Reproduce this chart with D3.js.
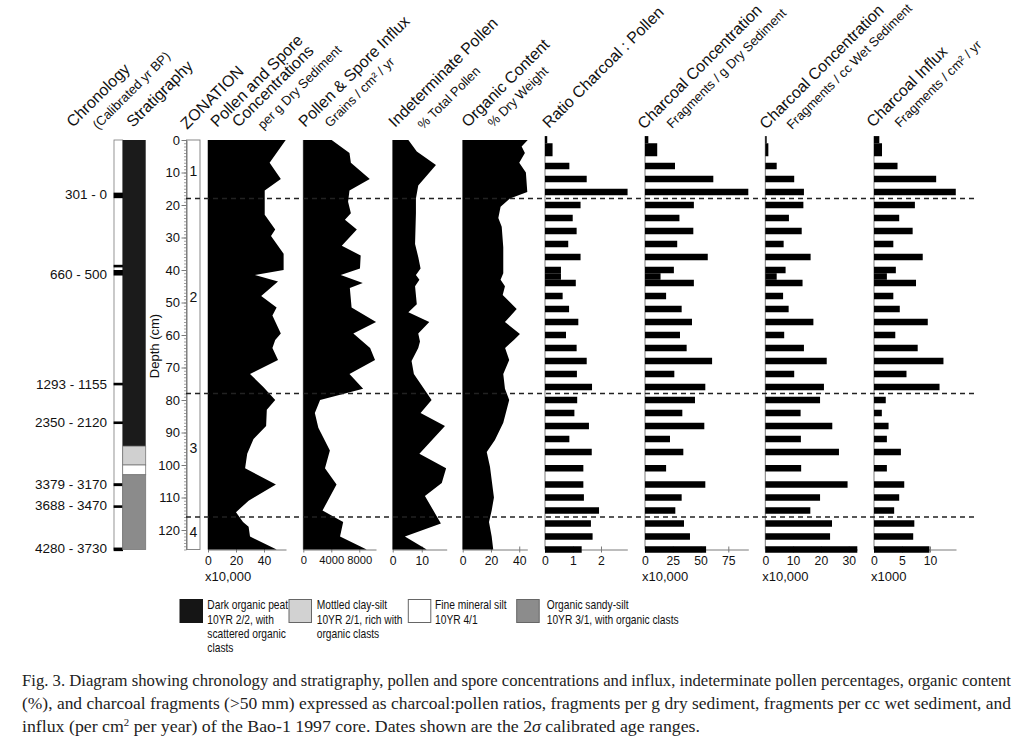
<!DOCTYPE html>
<html><head><meta charset="utf-8">
<script src="https://cdn.jsdelivr.net/npm/d3@7"></script>
<style>body{margin:0;background:#fff;} svg{display:block;font-family:"Liberation Sans",Arial,Helvetica,sans-serif;}</style>
</head><body><svg id="c" width="1024" height="737"></svg>
<script>
// ---------------- DATA ----------------
const headerTitles = [["Chronology"],["Stratigraphy"],["ZONATION"],["Pollen and Spore","Concentrations"],["Pollen & Spore Influx"],["Indeterminate Pollen"],["Organic Content"],["Ratio Charcoal : Pollen"],["Charcoal Concentration"],["Charcoal Concentration"],["Charcoal Influx"]];
const headerSubs = ["(Calibrated yr BP)","","","per g Dry Sediment","Grains / cm\u00B2 / yr","% Total Pollen","% Dry Weight","","Fragments / g Dry Sediment","Fragments / cc Wet Sediment","Fragments / cm\u00B2 / yr"];

const dateLabels = ["301 - 0","660 - 500","1293 - 1155","2350 - 2120","3379 - 3170","3688 - 3470","4280 - 3730"];
const dateLabelDepth = [16.9, 41.3, 75.1, 86.8, 106, 112.6, 125.6];
const dateMarkTop = [16.2, 38.4, 40.0, 74.7, 86.6, 105.6, 112.4, 125.4];
const dateMarkBottom = [17.9, 39.2, 41.7, 75.5, 87.4, 106.5, 113.2, 126.5];

const stratTop = [0, 94.2, 100, 103];
const stratBottom = [94.2, 100, 103, 126];
const stratType = [0, 1, 2, 3];

const depthTicks = [0,10,20,30,40,50,60,70,80,90,100,110,120];
const zoneBounds = [18, 78, 116];
const zoneNames = ["1","2","3","4"];
const zoneLabelDepth = [9.4, 48.2, 94.9, 120.5];

const pollenConcDepth = [0,7,12,15.5,23,27.5,29.5,35,40,41.5,43.5,48,51.5,54,59.5,61.5,64,67.7,72,76,80,83,88,92,96.5,101,106,111,114.5,117.5,119,122,126];
const pollenConc = [55.5,44,52,40.5,40.5,48,45,54,54,33.5,50,38,49,46,52,48,46,50,30,39.5,48,42,41.5,32.5,28,26.5,48.5,29,20,25,29,30,49];

const pollenInfluxDepth = [0,4,7,12,15.5,19,22.5,24.5,27.5,32.5,35.5,39.5,41.5,44,45.5,51.5,56,59.5,64,67.7,72,76.5,80,84,88.5,95.5,101,106,114,117.5,122,126];
const pollenInflux = [4050,6600,6800,9500,6600,6400,6800,5950,7650,5500,8200,8100,5350,8500,6650,6900,10400,7150,9550,10250,6600,8550,2400,1650,2150,3800,3100,4750,2750,5700,5250,9050];

const indetDepth = [0,3.5,7.7,14,18,22.5,32,36,39.5,41.5,43,45,50.5,53,56,59.5,62,64,68,72,80,84,88,96.5,101,105.5,109.5,118,122,126];
const indet = [5.4,8.3,14.9,8.8,8,8,7.7,8.8,9.6,8,9.2,7.7,8.3,5.4,12.6,8.8,9.4,8.8,6.5,7.3,13.4,9.6,18,9.2,18.4,16.9,11.1,16.6,4.2,11.7];

const organicDepth = [0,2,4,7,10,16,18,20.5,24,26.7,33,41,43,45,47.7,52,56,59.7,61.5,64,67.7,72,76.5,80,87,92.3,96,100.5,110,114,117.5,122,126];
const organic = [46,41.7,44,40,44.7,45.7,33.4,26.8,25.2,27.6,28.7,28.7,26.8,29.9,28.3,38.2,29.9,40.5,36.2,30,32.9,28.7,29.9,32.9,28.7,22.8,17,19.3,22.1,20.5,18.6,20.5,21.6];

const barTop = [-1.2,1,7,11,15,19,23,27,31,35,39,41,43,47,51,55,59,63,67,71,75,79,83,87,91,95,100,105,109,113,117,121,125];
const barBottom = [1,5,9,13,17,21,25,29,33,37,41,43,45,49,53,57,61,65,69,73,77,81,85,89,93,97,102,107,111,115,119,123,127];
const ratioCP = [0.08,0.27,0.87,1.49,2.95,1.27,0.99,1.13,0.83,1.27,0.57,0.57,1.1,0.63,0.86,1.19,0.75,1.13,1.49,1.14,1.68,1.15,1.05,1.57,0.87,1.67,1.37,1.37,1.39,1.93,1.64,1.70,1.31];
const charDry = [3,11,27,61.5,93,44,31,43.5,29,56.5,26,14,44,19,33,42.3,31.5,37.5,60.4,26.4,54.3,45,33.6,53.4,22.5,34.5,19,54.3,33,27.3,35.1,40.5,55];
const charWet = [0.5,1.1,4.1,10.4,13.9,13.7,8.5,13.1,6.6,16.3,7.3,4.1,13.4,6.4,8.4,17.3,6.8,13.9,22.1,10.4,21.1,19.7,12.7,24.1,12.8,26.5,12.9,29.6,19.7,16.2,24,23.3,33.1];
const charInflux = [0.95,1.43,4.2,11.1,14.6,7.3,4.5,6.9,3.45,8.7,3.9,2.3,7.5,3.45,4.6,9.6,3.8,7.8,12.4,5.8,11.7,2.1,1.4,2.6,2.3,4.8,2.3,5.4,4.5,3.6,7.2,7,9.9];

const ticksPollenConc = [0,20,40];
const ticksPollenInflux = [0,4000,8000];
const ticksIndet = [0,10];
const ticksOrganic = [0,20,40];
const ticksRatio = [0,1,2];
const ticksCharDry = [0,25,50,75];
const ticksCharWet = [0,10,20,30];
const ticksCharInflux = [0,5,10];
const multLabels = ["x10,000","","","","","x10,000","x10,000","x1000"];

const legendLines = [["Dark organic peat","10YR 2/2, with","scattered organic","clasts"],["Mottled  clay-silt","10YR 2/1, rich with","organic clasts"],["Fine mineral silt","10YR 4/1"],["Organic sandy-silt","10YR 3/1, with organic clasts"]];

const captionLines = [
 "Fig. 3. Diagram showing chronology and stratigraphy, pollen and spore concentrations and influx, indeterminate pollen percentages, organic content",
 "(%), and charcoal fragments (>50 mm) expressed as charcoal:pollen ratios, fragments per g dry sediment, fragments per cc wet sediment, and"
];

// ---------------- DRAW ----------------
const svg = d3.select('#c');
const axisCol = '#7a7a7a';
const y = d3.scaleLinear().domain([0,126]).range([140,549.5]);
const stratColors = ['#1b1b1b','#d0d0d0','#ffffff','#8b8b8b'];

// Headers
const headerPos = [[73,128,98,130],[133,128],[187,130],[217,128,263,130],[305,128,330,128],[395,128,423,130],[468,128,493,128],[549,129],[644,130,672,129],[766,130,792,130],[873,128,900,128]];
headerTitles.forEach((lines,i)=>{
  const p = headerPos[i];
  lines.forEach((t,j)=>{
    svg.append('text').attr('transform',`translate(${p[0]+j*21.5},${p[1]}) rotate(-45)`)
      .attr('font-size',16).attr('fill','#111').text(t);
  });
  if(headerSubs[i]){
    svg.append('text').attr('transform',`translate(${p[2]},${p[3]}) rotate(-45)`)
      .attr('font-size',13).attr('fill','#111').text(headerSubs[i]);
  }
});

// Chronology column
const colTop = y(0), colBot = y(126);
svg.append('rect').attr('x',114).attr('y',colTop).attr('width',8.7).attr('height',colBot-colTop)
  .attr('fill','#fff').attr('stroke',axisCol).attr('stroke-width',0.8);
dateMarkTop.forEach((t,i)=>{
  svg.append('rect').attr('x',113.6).attr('y',y(t)).attr('width',9.4).attr('height',y(dateMarkBottom[i])-y(t)).attr('fill','#000');
});
dateLabels.forEach((l,i)=>{
  svg.append('text').attr('x',107).attr('y',y(dateLabelDepth[i])).attr('text-anchor','end')
    .attr('dominant-baseline','central').attr('font-size',13.5).attr('fill','#111').text(l);
});

// Stratigraphy
stratTop.forEach((t,i)=>{
  svg.append('rect').attr('x',122.7).attr('y',y(t)).attr('width',23).attr('height',y(stratBottom[i])-y(t))
    .attr('fill',stratColors[stratType[i]]).attr('stroke',stratType[i]===0?'none':'#777').attr('stroke-width',0.8);
});

// Zonation box + depth axis
svg.append('rect').attr('x',186.5).attr('y',colTop).attr('width',13.5).attr('height',colBot-colTop)
  .attr('fill','#fff').attr('stroke',axisCol).attr('stroke-width',0.9);
const minorAx = svg.append('g').attr('transform','translate(186.5,0)')
  .call(d3.axisLeft(y).tickValues(d3.range(0,127,1)).tickSize(2.5).tickSizeOuter(0).tickFormat(''));
minorAx.select('.domain').attr('stroke',axisCol);
minorAx.selectAll('line').attr('stroke',axisCol).attr('stroke-width',0.7);
const majorAx = svg.append('g').attr('transform','translate(186.5,0)')
  .call(d3.axisLeft(y).tickValues(depthTicks).tickSize(5).tickSizeOuter(0).tickPadding(1.5));
majorAx.select('.domain').remove();
majorAx.selectAll('line').attr('stroke',axisCol);
majorAx.selectAll('text').attr('font-size',13).attr('fill','#111').attr('font-family','"Liberation Sans",Arial,sans-serif');
svg.append('text').attr('transform','translate(159,346) rotate(-90)').attr('text-anchor','middle')
  .attr('font-size',13).attr('fill','#111').text('Depth (cm)');
zoneNames.forEach((z,i)=>{
  svg.append('text').attr('x',193.5).attr('y',y(zoneLabelDepth[i])).attr('text-anchor','middle')
    .attr('dominant-baseline','central').attr('font-size',14).attr('fill','#111').text(z);
});

// Panels
const panels = [
  {x0:208,  x1:286,   max:55.7,  ticks:ticksPollenConc,  type:'area', d:pollenConcDepth, v:pollenConc, fs:12.2},
  {x0:303.3,x1:376,   max:10390, ticks:ticksPollenInflux,type:'area', d:pollenInfluxDepth, v:pollenInflux, fs:11.2},
  {x0:392.7,x1:446.7, max:18.6,  ticks:ticksIndet,       type:'area', d:indetDepth, v:indet, fs:12.2},
  {x0:462.7,x1:527.3, max:45.7,  ticks:ticksOrganic,     type:'area', d:organicDepth, v:organic, fs:12.2},
  {x0:545,  x1:627.3, max:2.94,  ticks:ticksRatio,       type:'bar',  v:ratioCP, fs:12.2},
  {x0:645,  x1:748.3, max:93,    ticks:ticksCharDry,     type:'bar',  v:charDry, fs:12.2},
  {x0:765.3,x1:857.3, max:33.1,  ticks:ticksCharWet,     type:'bar',  v:charWet, fs:12.2},
  {x0:874,  x1:956,   max:14.64, ticks:ticksCharInflux,  type:'bar',  v:charInflux, fs:12.2}
];
panels.forEach((p,k)=>{
  const x = d3.scaleLinear().domain([0,p.max]).range([p.x0,p.x1]);
  const g = svg.append('g');
  g.append('line').attr('x1',x(0)).attr('x2',x(0)).attr('y1',p.type==='bar'?y(-1.2):y(0)).attr('y2',y(126))
    .attr('stroke',axisCol).attr('stroke-width',1);
  const ax = g.append('g').attr('transform',`translate(0,${y(126)})`)
    .call(d3.axisBottom(x).tickValues(p.ticks).tickSize(3).tickSizeOuter(0).tickPadding(4).tickFormat(d3.format('')));
  ax.select('.domain').attr('stroke',axisCol);
  ax.selectAll('line').attr('stroke',axisCol).attr('y1',-3);
  ax.selectAll('text').attr('font-size',p.fs).attr('fill','#111').attr('font-family','"Liberation Sans",Arial,sans-serif');
  if(multLabels[k]) g.append('text').attr('x',p.x0-3).attr('y',581).attr('font-size',13).attr('fill','#111').text(multLabels[k]);
  if(p.type==='area'){
    const pts = p.d.map((dd,i)=>[dd,p.v[i]]);
    const area = d3.area().y(d=>y(d[0])).x0(x(0)).x1(d=>x(d[1]));
    g.append('path').attr('d',area(pts)).attr('fill','#000');
  } else {
    g.selectAll('rect').data(p.v).join('rect')
      .attr('x',x(0)).attr('y',(d,i)=>y(barTop[i]))
      .attr('width',d=>x(d)-x(0)).attr('height',(d,i)=>y(barBottom[i])-y(barTop[i]))
      .attr('fill','#000');
  }
});

// Zone boundaries (dashed)
zoneBounds.forEach(b=>{
  svg.append('line').attr('x1',186).attr('x2',975).attr('y1',y(b)).attr('y2',y(b))
    .attr('stroke','#222').attr('stroke-width',1.4).attr('stroke-dasharray','5,4');
});

// Legend
const legX = [180, 289, 408.3, 516.7];
const legTX = [207.3, 316.7, 435, 546.7];
const legFill = ['#151515','#d2d2d2','#ffffff','#8c8c8c'];
legendLines.forEach((lines,i)=>{
  svg.append('rect').attr('x',legX[i]).attr('y',599.5).attr('width',22.5).attr('height',23)
    .attr('fill',legFill[i]).attr('stroke',i===0?'#151515':'#666').attr('stroke-width',1);
  const t = svg.append('text').attr('transform',`translate(${legTX[i]},609.3) scale(0.8,1)`).attr('font-size',12.8).attr('fill','#111');
  lines.forEach((l,j)=> t.append('tspan').attr('x',0).attr('y',j*14.4).text(l));
});

// Caption
const cap = svg.append('g').attr('font-family','"Liberation Serif","Times New Roman",serif').attr('font-size',16.5).attr('fill','#222');
captionLines.forEach((l,i)=>{
  cap.append('text').attr('x',22).attr('y',686+i*23).attr('textLength',989).attr('lengthAdjust','spacingAndGlyphs').text(l);
});
const c3 = cap.append('text').attr('x',22).attr('y',732).attr('textLength',678).attr('lengthAdjust','spacingAndGlyphs');
c3.append('tspan').text('influx (per cm');
c3.append('tspan').attr('font-size',10).attr('dy',-6).text('2');
c3.append('tspan').attr('dy',6).text(' per year) of the Bao-1 1997 core. Dates shown are the 2');
c3.append('tspan').attr('font-style','italic').text('\u03C3');
c3.append('tspan').text(' calibrated age ranges.');
</script>
</body></html>
